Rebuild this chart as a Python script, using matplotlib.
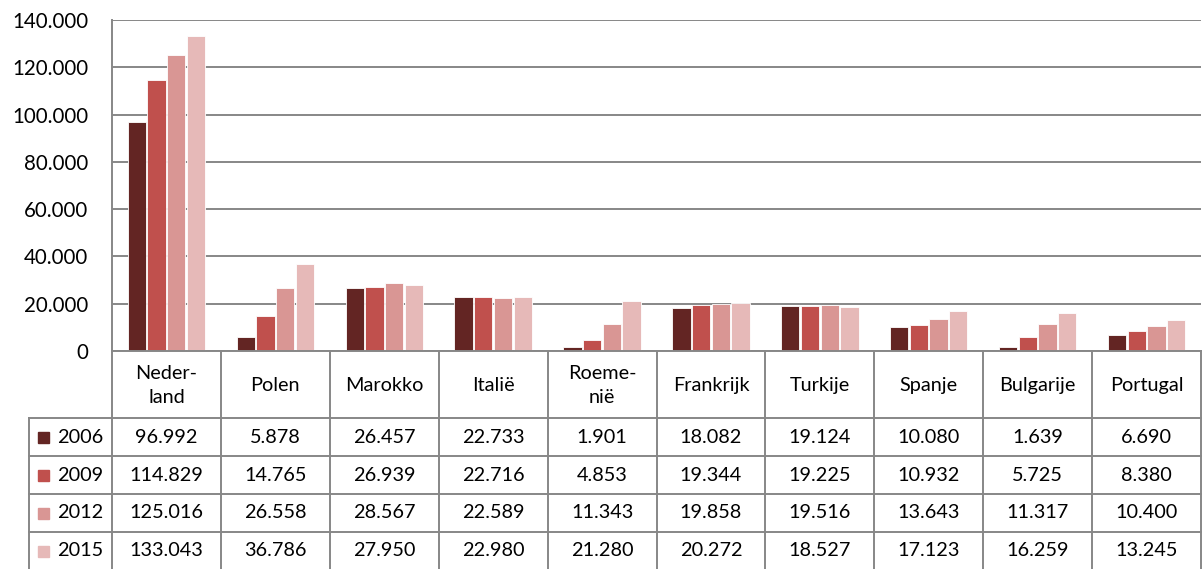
import matplotlib.pyplot as plt
import numpy as np

plt.rcParams['font.family'] = ['Lato', 'DejaVu Sans']

# data
countries = ['Neder-\nland', 'Polen', 'Marokko', 'Italië', 'Roeme-\nnië',
             'Frankrijk', 'Turkije', 'Spanje', 'Bulgarije', 'Portugal']
years = ['2006', '2009', '2012', '2015']
v2006 = [96992, 5878, 26457, 22733, 1901, 18082, 19124, 10080, 1639, 6690]
v2009 = [114829, 14765, 26939, 22716, 4853, 19344, 19225, 10932, 5725, 8380]
v2012 = [125016, 26558, 28567, 22589, 11343, 19858, 19516, 13643, 11317, 10400]
v2015 = [133043, 36786, 27950, 22980, 21280, 20272, 18527, 17123, 16259, 13245]
y_ticks = [0, 20000, 40000, 60000, 80000, 100000, 120000, 140000]

series = [v2006, v2009, v2012, v2015]
colors = ['#632523', '#C0504D', '#D99694', '#E6B9B8']
grid_col = '#878787'

W, H = 1202, 569
fig = plt.figure(figsize=(W / 100, H / 100), dpi=100)

# plot area in pixel coordinates
x0, x1, y0, y1 = 112, 1201, 20, 351
ax = fig.add_axes([x0 / W, 1 - y1 / H, (x1 - x0) / W, (y1 - y0) / H])

n = len(countries)
x = np.arange(n)
bw = 0.168
step = 0.181
for k, (vals, c) in enumerate(zip(series, colors)):
    ax.bar(x + (k - 1.5) * step, vals, width=bw, color=c,
           edgecolor='white', linewidth=0.6, zorder=3)

ax.set_xlim(-0.5, n - 0.5)
ax.set_ylim(0, 140000)
ax.set_yticks(y_ticks)
ax.set_yticklabels([f'{v:,}'.replace(',', '.') for v in y_ticks], fontsize=14.8)
ax.tick_params(axis='y', length=0, pad=17)
ax.set_xticks([])
ax.grid(axis='y', color=grid_col, linewidth=1.4, zorder=0)
for s in ['top', 'right', 'bottom']:
    ax.spines[s].set_visible(False)
ax.spines['left'].set_color(grid_col)
ax.spines['left'].set_linewidth(1.4)

# data table drawn underneath in pixel space
tab = fig.add_axes([0, 0, 1, 1], facecolor='none')
tab.set_xlim(0, W)
tab.set_ylim(H, 0)
tab.axis('off')

col_w = (x1 - x0) / n
row_tops = [418, 456, 494, 532, 570]
lw = 1.4
# horizontal lines
tab.plot([x0, x1], [351, 351], color=grid_col, lw=lw)
for yy in row_tops[:-1]:
    tab.plot([29, x1], [yy, yy], color=grid_col, lw=lw)
# vertical lines
for i in range(n + 1):
    xx = x0 + i * col_w
    tab.plot([xx, xx], [351, H], color=grid_col, lw=lw)
tab.plot([29, 29], [418, H], color=grid_col, lw=lw)

# header labels
for i, name in enumerate(countries):
    tab.text(x0 + (i + 0.5) * col_w, (351 + 418) / 2 + 1, name, ha='center',
             va='center', fontsize=14.3, linespacing=1.45)

# rows
for r, (yr, vals, c) in enumerate(zip(years, series, colors)):
    yc = (row_tops[r] + row_tops[r + 1]) / 2
    tab.add_patch(plt.Rectangle((38, yc - 5.5), 11, 11, color=c))
    tab.text(80, yc, yr, ha='center', va='center', fontsize=14.3)
    for i, v in enumerate(vals):
        tab.text(x0 + (i + 0.5) * col_w, yc, f'{v:,}'.replace(',', '.'),
                 ha='center', va='center', fontsize=14.3)

fig.savefig('out.png', dpi=100, facecolor='white')
